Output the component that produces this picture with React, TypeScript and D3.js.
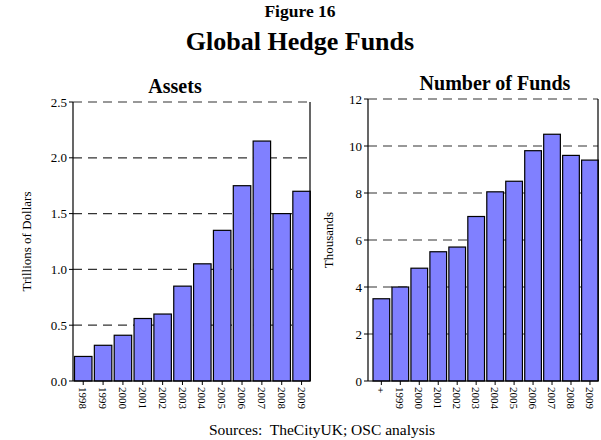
import React from "react";
import * as d3 from "d3";

const assetYears = ["1998","1999","2000","2001","2002","2003","2004","2005","2006","2007","2008","2009"];
const assetValues = [0.22, 0.32, 0.41, 0.56, 0.60, 0.85, 1.05, 1.35, 1.75, 2.15, 1.50, 1.70];
const assetTicks = [0, 0.5, 1.0, 1.5, 2.0, 2.5];

const fundYears = ["+","1999","2000","2001","2002","2003","2004","2005","2006","2007","2008","2009"];
const fundValues = [3.5, 4.0, 4.8, 5.5, 5.7, 7.0, 8.05, 8.5, 9.8, 10.5, 9.6, 9.4];
const fundTicks = [0, 2, 4, 6, 8, 10, 12];

const FONT = "'Liberation Serif', 'Times New Roman', serif";

type PanelProps = {
  x0: number; x1: number; y0: number; y1: number; barStart: number;
  cats: string[]; vals: number[]; ticks: number[]; max: number;
  fmt: (v: number) => string; title: string; titleX: number; titleY: number;
  ylabel: string; ylabelX: number;
};

function Panel(p: PanelProps) {
  const x = d3.scaleBand<string>().domain(p.cats).range([p.barStart, p.x1 + 0.3]).paddingInner(0.12).paddingOuter(0);
  const y = d3.scaleLinear().domain([0, p.max]).range([p.y1, p.y0]);
  return (
    <g>
      <text x={p.titleX} y={p.titleY} textAnchor="middle" fontFamily={FONT} fontWeight="bold" fontSize={20}>{p.title}</text>
      {p.ticks.map((t) => (
        <g key={"g" + t}>
          {t > 0 && (
            <line x1={p.x0} x2={p.x1} y1={y(t)} y2={y(t)} stroke="#333" strokeWidth={1.2} strokeDasharray="9,6" />
          )}
          <line x1={p.x0 - 4} x2={p.x0} y1={y(t)} y2={y(t)} stroke="#000" strokeWidth={1} />
          <text x={p.x0 - 6} y={y(t)} dy="0.35em" textAnchor="end" fontFamily={FONT} fontSize={13}>{p.fmt(t)}</text>
        </g>
      ))}
      {p.cats.map((c, i) => (
        <rect key={"b" + c} x={x(c)!} y={y(p.vals[i])} width={x.bandwidth()} height={p.y1 - y(p.vals[i])}
          fill="#8080ff" stroke="#000" strokeWidth={1.2} />
      ))}
      <line x1={p.x0} x2={p.x0} y1={p.y0} y2={p.y1} stroke="#000" strokeWidth={1.2} />
      <line x1={p.x1} x2={p.x1} y1={p.y0} y2={p.y1} stroke="#000" strokeWidth={1.2} />
      <line x1={p.x0} x2={p.x1} y1={p.y1} y2={p.y1} stroke="#000" strokeWidth={1.2} />
      {p.cats.map((c) => {
        const cx = x(c)! + x.bandwidth() / 2;
        return (
          <g key={"t" + c}>
            <line x1={cx} x2={cx} y1={p.y1} y2={p.y1 + 4} stroke="#000" strokeWidth={1} />
            <text transform={`translate(${cx},${p.y1 + 6}) rotate(90)`} dy="0.35em" textAnchor="start" fontFamily={FONT} fontSize={11}>{c}</text>
          </g>
        );
      })}
      <text transform={`translate(${p.ylabelX},${(p.y0 + p.y1) / 2}) rotate(-90)`} textAnchor="middle" fontFamily={FONT} fontSize={13}>{p.ylabel}</text>
    </g>
  );
}

export default function App() {
  return (
    <svg width={601} height={440} style={{ position: "absolute", left: 0, top: 0, background: "#fff" }}>
      <text x={300} y={17} textAnchor="middle" fontFamily={FONT} fontWeight="bold" fontSize={17.5}>Figure 16</text>
      <text x={300} y={50} textAnchor="middle" fontFamily={FONT} fontWeight="bold" fontSize={26}>Global Hedge Funds</text>
      <Panel x0={73} x1={310} y0={102} y1={381} barStart={74.5} cats={assetYears} vals={assetValues} ticks={assetTicks} max={2.5}
        fmt={(v) => v.toFixed(1)} title="Assets" titleX={175} titleY={93} ylabel="Trillions of Dollars" ylabelX={30.5} />
      <Panel x0={368} x1={598} y0={99} y1={381} barStart={373} cats={fundYears} vals={fundValues} ticks={fundTicks} max={12}
        fmt={(v) => String(v)} title="Number of Funds" titleX={495} titleY={90} ylabel="Thousands" ylabelX={333} />
      <text x={322} y={435} textAnchor="middle" fontFamily={FONT} fontSize={15.5} style={{ whiteSpace: "pre" }}>Sources:  TheCityUK; OSC analysis</text>
    </svg>
  );
}
